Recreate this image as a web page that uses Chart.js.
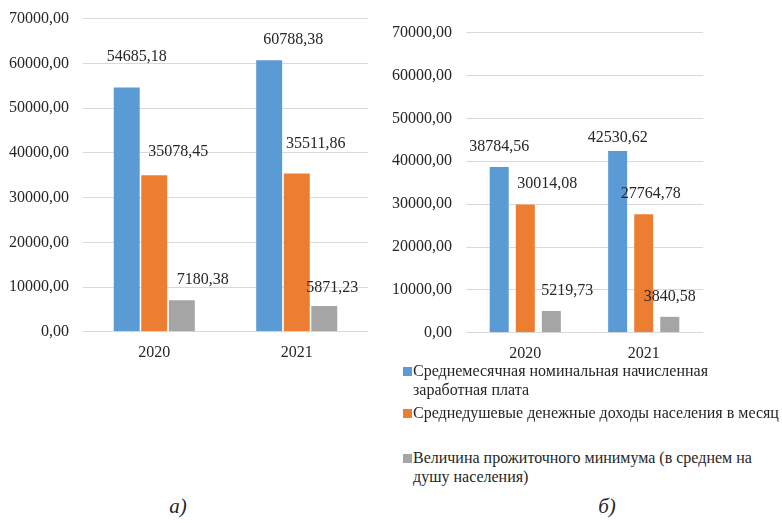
<!DOCTYPE html>
<html lang="ru">
<head>
<meta charset="utf-8">
<script src="https://cdn.jsdelivr.net/npm/chart.js@4.4.1/dist/chart.umd.min.js"></script>
<style>
  body { margin: 0; background: #fff; width: 782px; height: 523px; overflow: hidden; position: relative; font-family: 'Liberation Serif'; color: #262626; }
  .box { position: absolute; }
  #boxA { left: 0; top: -5px; width: 380px; height: 380px; }
  #boxB { left: 380px; top: 9px; width: 402px; height: 367px; }
  .legend-item { position: absolute; left: 403px; font-size: 16px; line-height: 18.5px; white-space: nowrap; }
  .legend-item .sw { position: absolute; left: 0; top: 5px; width: 9px; height: 9px; }
  .legend-item .txt { position: absolute; left: 10px; top: 0; }
  .caption { position: absolute; top: 494px; font-size: 21px; font-style: italic; transform: translateX(-50%); }
</style>
</head>
<body>
<div class="box" id="boxA"><canvas id="chartA"></canvas></div>
<div class="box" id="boxB"><canvas id="chartB"></canvas></div>
<div id="legend"></div>
<div class="caption" style="left:178px">а)</div>
<div class="caption" style="left:607px">б)</div>
<script>
const years = ["2020", "2021"];
const seriesNames = [
  "Среднемесячная номинальная начисленная заработная плата",
  "Среднедушевые денежные доходы населения в месяц",
  "Величина прожиточного минимума (в среднем на душу населения)",
];
const legendLines = [
  ["Среднемесячная номинальная начисленная", "заработная плата"],
  ["Среднедушевые денежные доходы населения в месяц"],
  ["Величина прожиточного минимума (в среднем на", "душу населения)"],
];

// chart а)
const wageA = [54685.18, 60788.38];
const incomeA = [35078.45, 35511.86];
const minimumA = [7180.38, 5871.23];

// chart б)
const wageB = [38784.56, 42530.62];
const incomeB = [30014.08, 27764.78];
const minimumB = [5219.73, 3840.58];

const yMax = 70000;
const yStep = 10000;

const COLORS = ["#5b9bd5", "#ed7d31", "#a5a5a5"];
const FONT = { family: "'Liberation Serif'", size: 16 };

function formatValue(value) {
  return value.toFixed(2).replace(".", ",");
}

// label nudges (dx, dy above bar top) per series, per year
const labelShiftA = [
  [[10, 30], [24, 20]],
  [[24, 23], [19, 29]],
  [[21, 20], [8, 18]],
];
const labelShiftB = [
  [[0, 20], [0, 13]],
  [[22, 20], [7, 20]],
  [[16, 20], [0, 20]],
];

const valueLabels = {
  id: "valueLabels",
  afterDatasetsDraw(chart, args, opts) {
    const ctx = chart.ctx;
    ctx.save();
    ctx.font = `${FONT.size}px ${FONT.family}`;
    ctx.fillStyle = "#262626";
    ctx.textAlign = "center";
    ctx.textBaseline = "middle";
    chart.data.datasets.forEach((ds, i) => {
      chart.getDatasetMeta(i).data.forEach((bar, j) => {
        const [dx, dy] = opts.shift[i][j];
        ctx.fillText(formatValue(ds.data[j]), bar.x + dx, bar.y - dy);
      });
    });
    ctx.restore();
  },
};

function makeChart(canvasId, series, look) {
  return new Chart(document.getElementById(canvasId), {
    type: "bar",
    data: {
      labels: years,
      datasets: series.map((data, i) => ({
        label: seriesNames[i],
        data,
        backgroundColor: COLORS[i],
        borderColor: "rgba(255,255,255,0.6)",
        borderWidth: 0.5,
        categoryPercentage: look.categoryPercentage,
        barPercentage: look.barPercentage,
      })),
    },
    options: {
      responsive: true,
      maintainAspectRatio: false,
      animation: false,
      layout: { padding: look.padding },
      plugins: {
        legend: { display: false },
        tooltip: { enabled: false },
        valueLabels: { shift: look.shift },
      },
      scales: {
        x: {
          grid: { display: false },
          border: { display: false },
          ticks: { font: FONT, color: "#262626", padding: 3 },
        },
        y: {
          min: 0,
          max: yMax,
          afterFit: (scale) => { scale.width = look.axisWidth; },
          grid: { color: "#d9d9d9", lineWidth: 1, drawTicks: false },
          border: { display: false },
          ticks: {
            stepSize: yStep,
            font: FONT,
            color: "#262626",
            padding: look.tickPad,
            callback: (value) => formatValue(value),
          },
        },
      },
    },
    plugins: [valueLabels],
  });
}

makeChart("chartA", [wageA, incomeA, minimumA], {
  categoryPercentage: 0.58,
  barPercentage: 0.98,
  padding: { top: 0, right: 12, bottom: 10, left: 0 },
  axisWidth: 83,
  tickPad: 14,
  shift: labelShiftA,
});

makeChart("chartB", [wageB, incomeB, minimumB], {
  categoryPercentage: 0.66,
  barPercentage: 0.77,
  padding: { top: 0, right: 79, bottom: 10, left: 0 },
  axisWidth: 86,
  tickPad: 14,
  shift: labelShiftB,
});

const legendTops = [362, 404, 449];
document.getElementById("legend").innerHTML = legendLines
  .map((lines, i) => `
    <div class="legend-item" style="top:${legendTops[i]}px">
      <span class="sw" style="background:${COLORS[i]}"></span>
      <span class="txt">${lines.join("<br>")}</span>
    </div>`)
  .join("");
</script>
</body>
</html>
